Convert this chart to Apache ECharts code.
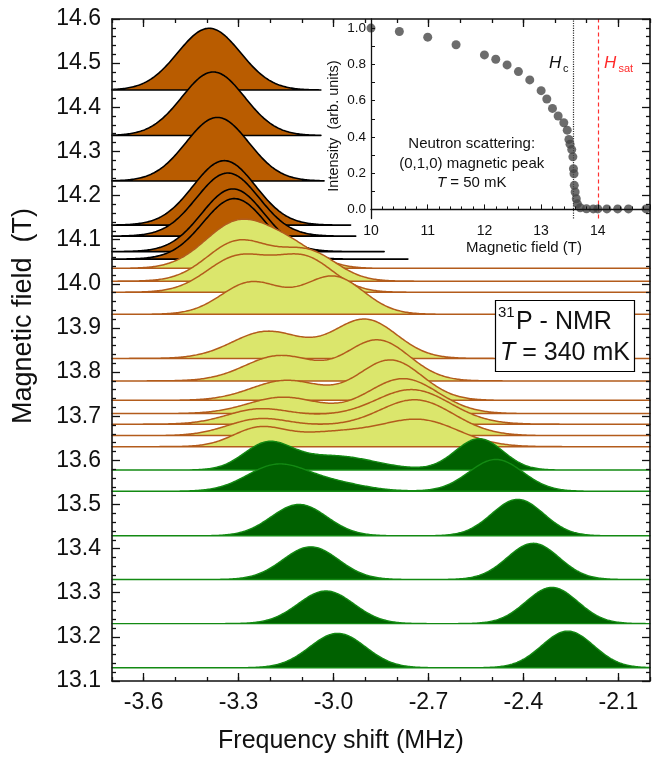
<!DOCTYPE html>
<html>
<head>
<meta charset="utf-8">
<script src="https://cdn.jsdelivr.net/npm/echarts@6/dist/echarts.min.js"></script>
<style>
  html, body { margin: 0; padding: 0; background: #ffffff; }
  #chart { width: 652px; height: 758px; }
</style>
</head>
<body>
<div id="chart"></div>
<script>
// ---- 31P NMR spectra, each drawn on its own field baseline (T) ----
const traceField = [14.439, 14.336, 14.233, 14.133, 14.108, 14.073, 14.056,
  14.035, 14.006, 13.981, 13.931, 13.831, 13.780, 13.736, 13.706, 13.682, 13.656, 13.631,
  13.578, 13.530, 13.429, 13.330, 13.230, 13.130];
const tracePhase = ['sat', 'sat', 'sat', 'sat', 'sat', 'sat', 'sat',
  'mid', 'mid', 'mid', 'mid', 'mid', 'mid', 'mid', 'mid', 'mid', 'mid', 'mid',
  'af', 'af', 'af', 'af', 'af', 'af'];
// upper end of each recorded frequency window (MHz)
const traceEnd = [-3.04, -3.04, -3.03, -2.946, -2.93, -2.84, -2.765,
  -2.0, -2.0, -2.0, -2.0, -2.0, -2.0, -2.0, -2.0, -2.0, -2.0, -2.0,
  -2.0, -2.0, -2.0, -2.0, -2.0, -2.0];
// fitted lines of every trace: position (MHz), amplitude (T), gaussian width (MHz)
const lineCenter = [
  [-3.393], [-3.380], [-3.367], [-3.345], [-3.334], [-3.318], [-3.313],
  [-3.30, -3.13], [-3.30, -3.08], [-3.30, -3.09], [-3.26, -3.00], [-3.21, -2.90],
  [-3.17, -2.86], [-3.15, -2.82], [-3.16, -2.78], [-3.24, -3.02, -2.75],
  [-3.24, -3.02, -2.74], [-3.24, -3.00, -2.72],
  [-3.21, -3.00, -2.54], [-3.18, -3.00, -2.487], [-3.109, -2.418], [-3.072, -2.369],
  [-3.024, -2.310], [-2.987, -2.260]
];
const lineHeight = [
  [0.140], [0.144], [0.144], [0.146], [0.143], [0.142], [0.137],
  [0.105, 0.040], [0.090, 0.065], [0.080, 0.075], [0.072, 0.085], [0.061, 0.088],
  [0.057, 0.092], [0.045, 0.091], [0.037, 0.079], [0.032, 0.015, 0.077],
  [0.035, 0.018, 0.080], [0.036, 0.032, 0.056],
  [0.056, 0.032, 0.071], [0.058, 0.018, 0.072], [0.071, 0.0825], [0.074, 0.082],
  [0.074, 0.082], [0.078, 0.083]
];
const lineSigma = [
  [0.099], [0.099], [0.099], [0.099], [0.099], [0.099], [0.099],
  [0.105, 0.085], [0.10, 0.09], [0.10, 0.09], [0.095, 0.095], [0.11, 0.10],
  [0.11, 0.10], [0.11, 0.10], [0.11, 0.11], [0.10, 0.12, 0.12],
  [0.10, 0.12, 0.12], [0.08, 0.15, 0.12],
  [0.075, 0.13, 0.075], [0.095, 0.10, 0.085], [0.088, 0.082], [0.088, 0.082],
  [0.088, 0.082], [0.088, 0.082]
];
const freqMin = -3.7, freqMax = -2.0;
const freqLabels = [-3.6, -3.3, -3.0, -2.7, -2.4, -2.1];

// ---- inset: neutron scattering, (0,1,0) magnetic peak at 50 mK ----
const neutronField = [10.0, 10.5, 11.0, 11.5, 12.0, 12.2, 12.4, 12.6, 12.8, 13.0, 13.1, 13.2,
  13.3, 13.4, 13.46, 13.49, 13.51, 13.54, 13.56, 13.57, 13.58, 13.585, 13.6, 13.62, 13.64,
  13.69, 13.8, 13.92, 14.0, 14.16, 14.35, 14.54, 14.85];
const neutronIntensity = [1.0, 0.981, 0.950, 0.908, 0.852, 0.828, 0.797, 0.760, 0.714, 0.655,
  0.609, 0.557, 0.515, 0.478, 0.437, 0.386, 0.36, 0.33, 0.29, 0.225, 0.197, 0.133, 0.096,
  0.059, 0.031, 0.009, 0.004, 0.003, 0.003, 0.003, 0.003, 0.003, 0.003];
const hcField = 13.557;
const hsatField = 14.01;
const fieldLabels = [10, 11, 12, 13, 14];
const intensityLabels = [0, 0.2, 0.4, 0.6, 0.8, 1.0];
const intensityTicks = [0, 0.1, 0.2, 0.3, 0.4, 0.5, 0.6, 0.7, 0.8, 0.9, 1.0];

const FONT = 'Liberation Sans, Arial, Helvetica, sans-serif';
const INK = '#111111';
const phaseStyle = {
  sat: { fill: '#b95c00', stroke: '#000000', width: 1.6 },
  mid: { fill: '#dbe66c', stroke: '#b35c1c', width: 1.5 },
  af:  { fill: '#006100', stroke: '#138a13', width: 1.4 }
};

function renderTrace(params, api) {
  const i = api.value(2);
  const base = traceField[i];
  const x0 = freqMin, x1 = traceEnd[i];
  const n = Math.round((x1 - x0) / 0.004);
  const pts = [];
  for (let k = 0; k <= n; k++) {
    const x = x0 + (x1 - x0) * k / n;
    let y = base;
    for (let j = 0; j < lineCenter[i].length; j++) {
      const d = x - lineCenter[i][j];
      const s = lineSigma[i][j];
      y += lineHeight[i][j] * Math.exp(-d * d / (2 * s * s));
    }
    pts.push(api.coord([x, y]));
  }
  pts.push(api.coord([x1, base]));
  pts.push(api.coord([x0, base]));
  const st = phaseStyle[tracePhase[i]];
  return {
    type: 'polygon',
    shape: { points: pts },
    style: { fill: st.fill, stroke: st.stroke, lineWidth: st.width, lineJoin: 'round' }
  };
}

const tickLine = { color: INK, width: 1.3 };
const frameLine = { color: INK, width: 1.6 };

function freqAxis(position, major, withLabels) {
  const ax = {
    gridIndex: 0, type: 'value', position: position, min: freqMin, max: freqMax,
    splitLine: { show: false }, z: 10
  };
  if (major) {
    ax.axisLine = { show: false };
    ax.axisTick = { show: true, inside: true, length: 8, customValues: freqLabels, lineStyle: tickLine };
    ax.axisLabel = withLabels
      ? { show: true, customValues: freqLabels, formatter: v => v.toFixed(1), fontFamily: FONT,
          fontSize: 23, color: INK, margin: 10 }
      : { show: false };
  } else {
    ax.interval = 0.1;
    ax.axisLine = { show: true, lineStyle: frameLine };
    ax.axisTick = { show: true, inside: true, length: 4, lineStyle: tickLine };
    ax.axisLabel = { show: false };
  }
  return ax;
}

function fieldAxis(position, withLabels) {
  return {
    gridIndex: 0, type: 'value', position: position, min: 13.1, max: 14.6, interval: 0.1,
    axisLine: { show: true, lineStyle: frameLine },
    axisTick: { show: true, inside: true, length: 8, lineStyle: tickLine },
    minorTick: { show: true, splitNumber: 5, length: 4, lineStyle: tickLine },
    axisLabel: withLabels
      ? { show: true, formatter: v => v.toFixed(1), fontFamily: FONT, fontSize: 23, color: INK, margin: 11 }
      : { show: false },
    splitLine: { show: false }, z: 10
  };
}

const chart = echarts.init(document.getElementById('chart'), null, { renderer: 'canvas' });

chart.setOption({
  animation: false,
  backgroundColor: '#ffffff',
  grid: [
    { left: 112, top: 19, width: 538, height: 662, outerBoundsMode: 'none', containLabel: false },
    { left: 371, top: 19, width: 279, height: 199.5, outerBoundsMode: 'none', containLabel: false }
  ],
  xAxis: [
    freqAxis('bottom', false, false),
    freqAxis('bottom', true, true),
    freqAxis('top', false, false),
    freqAxis('top', true, false),
    {
      gridIndex: 1, type: 'value', position: 'bottom', min: 10, max: 14.92, interval: 1,
      axisLine: { show: true, lineStyle: { color: INK, width: 1.3 } },
      axisTick: { show: true, inside: true, length: 5, lineStyle: { color: INK, width: 1 } },
      minorTick: { show: true, splitNumber: 5, length: 3, lineStyle: { color: INK, width: 1 } },
      axisLabel: { show: true, customValues: fieldLabels, fontFamily: FONT, fontSize: 14, color: INK,
        margin: 6, formatter: v => String(v) },
      splitLine: { show: false }, z: 10
    }
  ],
  yAxis: [
    fieldAxis('left', true),
    fieldAxis('right', false),
    {
      gridIndex: 1, type: 'value', position: 'left', min: -0.05, max: 1.05,
      axisLine: { show: true, lineStyle: { color: INK, width: 1.3 } },
      axisTick: { show: true, inside: true, length: 4, customValues: intensityTicks,
        lineStyle: { color: INK, width: 1 } },
      axisLabel: { show: true, customValues: intensityLabels, formatter: v => v.toFixed(1),
        fontFamily: FONT, fontSize: 13.5, color: INK, margin: 5 },
      splitLine: { show: false }, z: 10
    }
  ],
  series: [
    {
      type: 'custom',
      name: 'NMR spectra',
      xAxisIndex: 0, yAxisIndex: 0,
      coordinateSystem: 'cartesian2d',
      renderItem: renderTrace,
      encode: { x: 0, y: 1 },
      data: traceField.map((f, i) => [freqMin, f, i]),
      silent: true,
      z: 2
    },
    {
      type: 'scatter',
      name: 'Neutron scattering',
      xAxisIndex: 4, yAxisIndex: 2,
      symbol: 'circle', symbolSize: 9,
      itemStyle: { color: '#474747' },
      data: neutronField.map((f, i) => [f, neutronIntensity[i]]),
      z: 5,
      markLine: {
        silent: true, symbol: 'none', label: { show: false },
        data: [
          { yAxis: 0, lineStyle: { color: '#555555', type: 'dotted', width: 1 } },
          { xAxis: hcField, lineStyle: { color: '#333333', type: 'dotted', width: 1.2 } },
          { xAxis: hsatField, lineStyle: { color: '#ff3030', type: [4, 3], width: 1.2 } }
        ]
      }
    }
  ],
  graphic: [
    // axis titles
    { type: 'text', x: 341, y: 741, z: 20,
      style: { text: 'Frequency shift (MHz)', fontFamily: FONT, fontSize: 25, fill: INK,
        textAlign: 'center', textVerticalAlign: 'middle' } },
    { type: 'text', x: 24, y: 316, rotation: Math.PI / 2, z: 20,
      style: { text: 'Magnetic field  (T)', fontFamily: FONT, fontSize: 27, fill: INK,
        textAlign: 'center', textVerticalAlign: 'middle' } },
    // NMR label box
    { type: 'rect', z: 20, shape: { x: 495.5, y: 300.5, width: 139, height: 71 },
      style: { fill: '#ffffff', stroke: '#000000', lineWidth: 1.2 } },
    { type: 'text', x: 498, y: 313, z: 21,
      style: { text: '31', fontFamily: FONT, fontSize: 15, fill: INK, textVerticalAlign: 'middle' } },
    { type: 'text', x: 516, y: 322, z: 21,
      style: { text: 'P - NMR', fontFamily: FONT, fontSize: 25, fill: INK, textVerticalAlign: 'middle' } },
    { type: 'text', x: 500, y: 353, z: 21,
      style: { text: '{i|T} = 340 mK', fontFamily: FONT, fontSize: 25, fill: INK, textVerticalAlign: 'middle',
        rich: { i: { fontStyle: 'italic', fontFamily: FONT, fontSize: 25, fill: INK } } } },
    // inset annotations
    { type: 'text', x: 471.7, y: 144, z: 21,
      style: { text: 'Neutron scattering:', fontFamily: FONT, fontSize: 15, fill: INK,
        textAlign: 'center', textVerticalAlign: 'middle' } },
    { type: 'text', x: 471.7, y: 163.5, z: 21,
      style: { text: '(0,1,0) magnetic peak', fontFamily: FONT, fontSize: 15, fill: INK,
        textAlign: 'center', textVerticalAlign: 'middle' } },
    { type: 'text', x: 471.7, y: 183, z: 21,
      style: { text: '{i|T} = 50 mK', fontFamily: FONT, fontSize: 15, fill: INK,
        textAlign: 'center', textVerticalAlign: 'middle',
        rich: { i: { fontStyle: 'italic', fontFamily: FONT, fontSize: 15, fill: INK } } } },
    { type: 'text', x: 524, y: 248, z: 21,
      style: { text: 'Magnetic field (T)', fontFamily: FONT, fontSize: 15, fill: INK,
        textAlign: 'center', textVerticalAlign: 'middle' } },
    { type: 'text', x: 334, y: 126, rotation: Math.PI / 2, z: 21,
      style: { text: 'Intensity  (arb. units)', fontFamily: FONT, fontSize: 14.5, fill: INK,
        textAlign: 'center', textVerticalAlign: 'middle' } },
    { type: 'text', x: 549, y: 63, z: 21,
      style: { text: 'H', fontFamily: FONT, fontStyle: 'italic', fontSize: 17, fill: INK,
        textVerticalAlign: 'middle' } },
    { type: 'text', x: 563, y: 69, z: 21,
      style: { text: 'c', fontFamily: FONT, fontSize: 11, fill: INK, textVerticalAlign: 'middle' } },
    { type: 'text', x: 604, y: 63, z: 21,
      style: { text: 'H', fontFamily: FONT, fontStyle: 'italic', fontSize: 17, fill: '#ff2a2a',
        textVerticalAlign: 'middle' } },
    { type: 'text', x: 618.5, y: 69, z: 21,
      style: { text: 'sat', fontFamily: FONT, fontSize: 11, fill: '#ff2a2a', textVerticalAlign: 'middle' } }
  ]
});
</script>
</body>
</html>
